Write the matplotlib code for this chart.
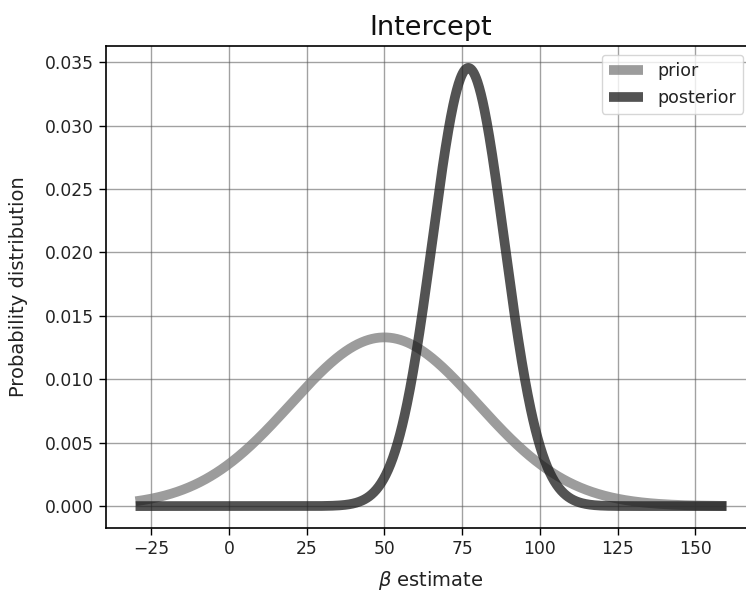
import numpy as np
import matplotlib
matplotlib.use("Agg")
import matplotlib.pyplot as plt

# Normal distributions for the intercept coefficient
x_min, x_max = -30, 160
prior_mean, prior_sd = 50.0, 30.0
posterior_mean, posterior_sd = 77.0, 11.55
series_labels = ["prior", "posterior"]
x_ticks = [-25, 0, 25, 50, 75, 100, 125, 150]
y_ticks = [0.000, 0.005, 0.010, 0.015, 0.020, 0.025, 0.030, 0.035]


def normal_pdf(x, mu, sd):
    return np.exp(-0.5 * ((x - mu) / sd) ** 2) / (sd * np.sqrt(2 * np.pi))


beta = np.linspace(x_min, x_max, 1000)
prior = normal_pdf(beta, prior_mean, prior_sd)
posterior = normal_pdf(beta, posterior_mean, posterior_sd)

fig = plt.figure(figsize=(7.46, 5.91), dpi=100)
ax = fig.add_axes([106 / 746, 63 / 591, 650 / 746, 482 / 591])

ax.plot(beta, prior, color="#808080", alpha=0.78, lw=7, label=series_labels[0],
        solid_capstyle="butt")
ax.plot(beta, posterior, color="#1a1a1a", alpha=0.75, lw=7, label=series_labels[1],
        solid_capstyle="butt")

ax.set_xticks(x_ticks)
ax.set_yticks(y_ticks)
ax.set_yticklabels([f"{v:.3f}" for v in y_ticks])
ax.tick_params(labelsize=12.3, length=5, width=1, labelcolor="#222222")
ax.grid(True, color="#555555", alpha=0.55, lw=1)
for s in ax.spines.values():
    s.set_linewidth(1.2)
ax.spines["right"].set_visible(False)

ax.set_title("Intercept", fontsize=19.5, pad=8, color="#111111")
ax.set_xlabel(r"$\beta$ estimate", fontsize=14, labelpad=8, color="#222222")
ax.set_ylabel("Probability distribution", fontsize=14, labelpad=12, color="#222222")

leg = ax.legend(loc="upper right", bbox_to_anchor=(743 / 746, 1 - 55 / 591),
                bbox_transform=fig.transFigure, borderaxespad=0, fontsize=12.5,
                handlelength=2.0, framealpha=0.8)
for t in leg.get_texts():
    t.set_color("#222222")

fig.savefig("out.png", dpi=100)
